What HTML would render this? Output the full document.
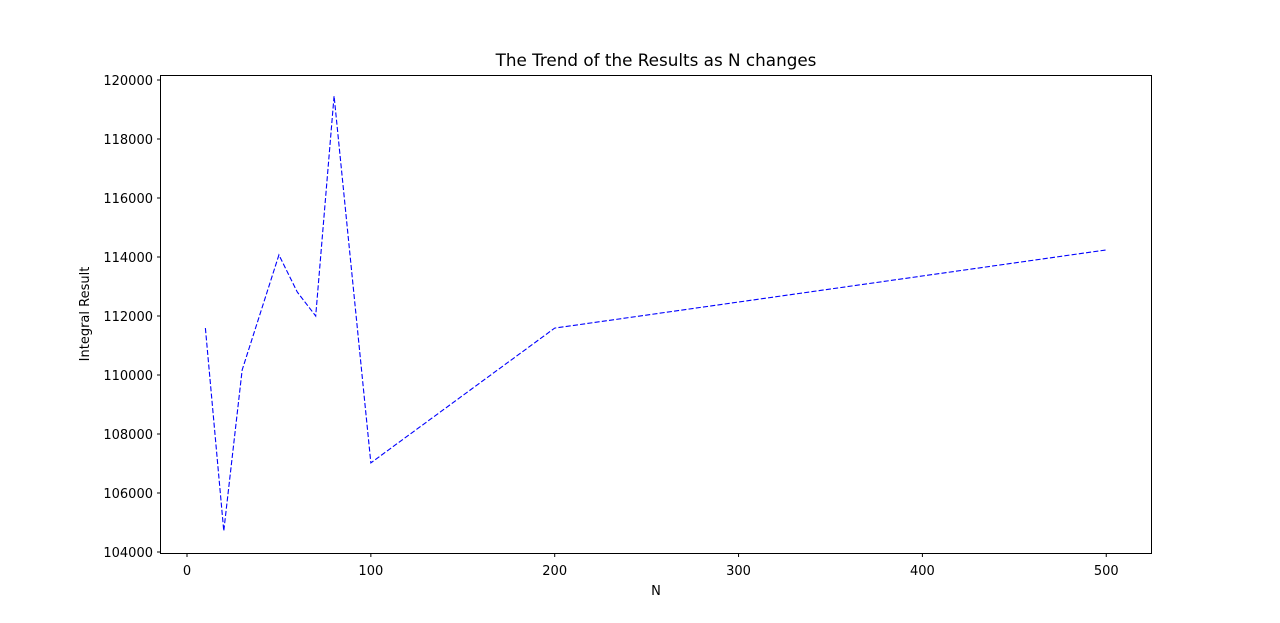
<!DOCTYPE html>
<html><head><meta charset="utf-8"><style>
body{margin:0;background:#fff;}
svg{display:block;font-family:"DejaVu Sans","Liberation Sans",sans-serif;}
</style></head><body>
<svg id="chart" width="1280" height="623">
<rect x="0" y="0" width="1280" height="623" fill="#fff"/>
<text x="656" y="66" text-anchor="middle" font-size="16.8">The Trend of the Results as N changes</text>
<text x="656" y="595" text-anchor="middle" font-size="13">N</text>
<text transform="translate(89,314) rotate(-90)" text-anchor="middle" font-size="13">Integral Result</text>
<g id="ticks"></g>
<path id="series" fill="none" stroke="#0000ff" stroke-width="1.1" stroke-dasharray="5.1,2.2"/>
<rect x="160.5" y="75.5" width="991" height="478" fill="none" stroke="#000" stroke-width="1"/>
</svg>
<script>
const nValues = [10, 20, 30, 50, 60, 70, 80, 100, 200, 500];
const results = [111590, 104710, 110170, 114070, 112810, 112000, 119460, 107020, 111590, 114240];
const xTicks = [0, 100, 200, 300, 400, 500];
const yTicks = [104000, 106000, 108000, 110000, 112000, 114000, 116000, 118000, 120000];

function xs(v){ return 187 + v * 1.8385; }
function ys(v){ return 552 - (v - 104000) * 0.0295; }

const NS = "http://www.w3.org/2000/svg";
const g = document.getElementById('ticks');
xTicks.forEach(t => {
  const l = document.createElementNS(NS, 'line');
  l.setAttribute('x1', xs(t)); l.setAttribute('x2', xs(t));
  l.setAttribute('y1', 553.5); l.setAttribute('y2', 557);
  l.setAttribute('stroke', '#000');
  
  
  g.appendChild(l);
  const tx = document.createElementNS(NS, 'text');
  tx.setAttribute('x', xs(t)); tx.setAttribute('y', 575);
  tx.setAttribute('text-anchor', 'middle'); tx.setAttribute('font-size', '13');
  tx.textContent = t;
  
  
  g.appendChild(tx);
});
yTicks.forEach(t => {
  const l = document.createElementNS(NS, 'line');
  l.setAttribute('x1', 157); l.setAttribute('x2', 160.5);
  l.setAttribute('y1', ys(t)); l.setAttribute('y2', ys(t));
  l.setAttribute('stroke', '#000');
  
  
  g.appendChild(l);
  const tx = document.createElementNS(NS, 'text');
  tx.setAttribute('x', 153); tx.setAttribute('y', ys(t) + 5);
  tx.setAttribute('text-anchor', 'end'); tx.setAttribute('font-size', '13');
  tx.textContent = t;
  
  
  g.appendChild(tx);
});
document.getElementById('series').setAttribute('d',
  nValues.map((n, i) => (i ? 'L' : 'M') + xs(n) + ',' + ys(results[i])).join(' '));
</script>
</body></html>
